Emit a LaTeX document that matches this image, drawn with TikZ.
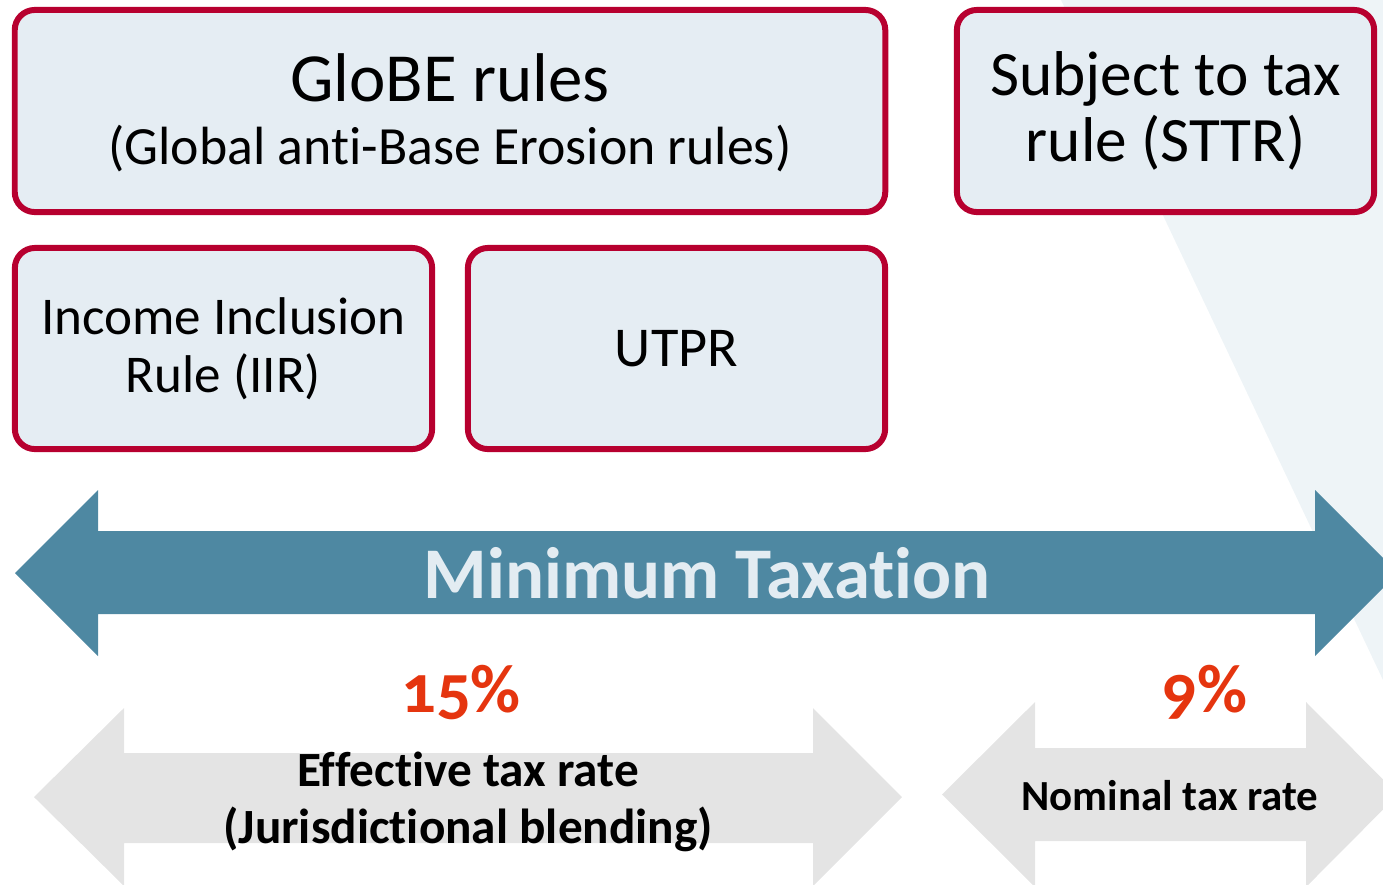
\documentclass[tikz,border=0pt]{standalone}
\usepackage{fontspec}
\setmainfont{Carlito}[Ligatures=NoCommon]
\newfontfamily\oldnum{Carlito}[Numbers=OldStyle]
\definecolor{boxfill}{HTML}{E5EDF3}
\definecolor{boxline}{HTML}{B7002F}
\definecolor{bluearrow}{HTML}{4E88A2}
\definecolor{bluetext}{HTML}{E3ECF2}
\definecolor{grayarrow}{HTML}{E4E4E4}
\definecolor{redtext}{HTML}{E5350F}
\definecolor{bgtri}{HTML}{EEF4F7}
\tikzset{
  rulebox/.style={draw=boxline, fill=boxfill, line width=1.7pt, rounded corners=0.2cm,
    inner sep=0pt, align=center, text=black},
  pct/.style={text=redtext, font=\oldnum\bfseries\fontsize{19.5}{22}\selectfont},
  graylabel/.style={text=black, align=center},
}
\begin{document}
\begin{tikzpicture}[x=0.01cm,y=-0.01cm]
\useasboundingbox (0,0) rectangle (1383,884);
\clip (0,0) rectangle (1383,884);
% background triangle
\fill[bgtri] (1061,0) -- (1383,0) -- (1383,680) -- cycle;
% boxes
\node[rulebox, minimum width=8.70cm, minimum height=2.02cm] (globe) at (450,111) {};
\node[align=center, inner sep=0pt, font=\fontsize{15.3}{17.8}\selectfont] (globetext) at (450,113)
  {{\fontsize{19.6}{17.8}\selectfont GloBE rules}\\(Global anti-Base Erosion rules)};
\node[rulebox, minimum width=4.17cm, minimum height=2.02cm, font=\fontsize{18}{18.8}\selectfont] (sttr) at (1165.5,111)
  {Subject to tax\\rule (STTR)};
\node[rulebox, minimum width=4.17cm, minimum height=2.01cm, font=\fontsize{15.1}{16.5}\selectfont] (iir) at (223.5,348.5)
  {Income Inclusion\\Rule (IIR)};
\node[rulebox, minimum width=4.17cm, minimum height=2.01cm, font=\fontsize{16}{16.5}\selectfont] (utpr) at (676.5,348.5)
  {UTPR};
% blue double arrow
\fill[bluearrow] (15,573) -- (98,490) -- (98,531) -- (1315,531) -- (1315,490) -- (1398,573)
  -- (1315,656) -- (1315,614) -- (98,614) -- (98,656) -- cycle;
\node[text=bluetext, font=\bfseries\fontsize{20.7}{25}\selectfont] (mintax) at (707,573) {Minimum Taxation};
% gray arrows
\fill[grayarrow] (34,797) -- (124,708) -- (124,753) -- (813,753) -- (813,708) -- (902,797)
  -- (813,886) -- (813,843) -- (124,843) -- (124,886) -- cycle;
\fill[grayarrow] (942,794.5) -- (1035,702) -- (1035,748) -- (1306,748) -- (1306,702) -- (1398,794.5)
  -- (1306,887) -- (1306,841) -- (1035,841) -- (1035,887) -- cycle;
\node[pct] (p15) at (461,693) {15\%};
\node[pct] (p9) at (1205,692) {9\%};
\node[graylabel, font=\bfseries\fontsize{14}{16.2}\selectfont] (eff) at (468,802)
  {Effective tax rate\\(Jurisdictional blending)};
\node[graylabel, font=\bfseries\fontsize{12.2}{15}\selectfont] (nom) at (1170,796)
  {Nominal tax rate};
\end{tikzpicture}
\end{document}
